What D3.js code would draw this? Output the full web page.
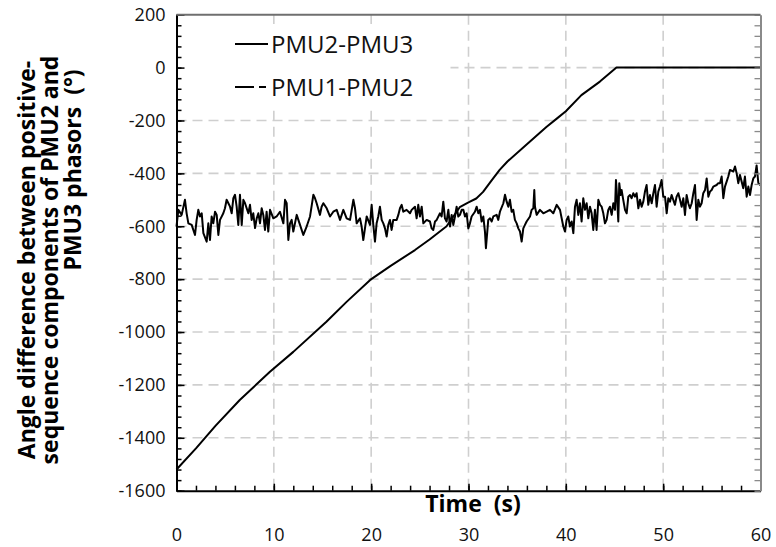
<!DOCTYPE html>
<html>
<head>
<meta charset="utf-8">
<script src="https://cdn.jsdelivr.net/npm/d3@7"></script>
<style>
  html, body { margin: 0; padding: 0; background: #fff; }
  svg { display: block; font-family: "Open Sans", "Liberation Sans", sans-serif; }
</style>
</head>
<body>
<svg id="chart" width="776" height="547"></svg>
<script>
// ── Data ─────────────────────────────────────────────────────────────────────
const xTickValues = [0, 10, 20, 30, 40, 50, 60];
const yTickValues = [200, 0, -200, -400, -600, -800, -1000, -1200, -1400, -1600];
const seriesNames = ['PMU2-PMU3', 'PMU1-PMU2'];

// PMU2-PMU3: ramps up to 0 and stays there
const pmu23T = [0, 2, 4, 6.5, 9.6, 12, 15.4, 17.5, 19.9, 22, 24.5, 26, 27.75, 29.1, 30, 30.8,
                31.5, 32.3, 33.2, 34, 36, 38, 39.1, 40, 41.6, 43.5, 45.2, 60];
const pmu23V = [-1520, -1440, -1355, -1257, -1150, -1075, -961, -885, -803, -750, -690, -650,
                -600, -528, -510, -495, -470, -430, -387, -355, -290, -225, -192, -165, -104,
                -53, 0, 0];

// PMU1-PMU2: noisy trace, [time, angle]
const pmu12 = [
  [0.00,-601],[0.19,-538],[0.53,-557],[0.87,-500],[1.04,-551],[1.22,-589],[1.56,-595],[1.90,-633],
  [2.07,-576],[2.24,-538],[2.41,-563],[2.59,-551],[2.76,-626],[3.10,-658],[3.27,-589],[3.44,-652],
  [3.61,-563],[3.78,-589],[3.96,-545],[4.13,-557],[4.30,-633],[4.47,-576],[4.81,-551],[4.98,-532],
  [5.15,-500],[5.33,-513],[5.50,-526],[5.67,-551],[5.84,-494],[6.01,-481],[6.18,-526],[6.35,-595],
  [6.52,-481],[6.70,-595],[6.87,-500],[7.04,-513],[7.38,-551],[7.55,-519],[7.72,-576],[7.89,-551],
  [8.07,-607],[8.24,-570],[8.41,-551],[8.58,-589],[8.75,-532],[8.92,-557],[9.09,-614],[9.26,-545],
  [9.43,-620],[9.61,-538],[9.95,-570],[10.29,-563],[10.63,-545],[10.98,-589],[11.15,-500],[11.32,-513],
  [11.49,-652],[11.66,-589],[11.83,-576],[12.00,-620],[12.35,-557],[12.69,-595],[13.03,-633],[13.37,-601],
  [13.72,-563],[14.06,-481],[14.23,-494],[14.40,-513],[14.74,-557],[14.91,-526],[15.09,-513],[15.43,-532],
  [15.77,-563],[16.11,-545],[16.46,-538],[16.80,-576],[17.14,-538],[17.48,-570],[17.83,-576],[18.17,-500],
  [18.34,-532],[18.51,-589],[18.85,-570],[19.02,-601],[19.19,-652],[19.54,-563],[19.88,-595],
  [20.05,-519],[20.22,-595],[20.39,-658],[20.56,-589],[20.73,-563],[20.90,-526],[21.08,-576],[21.25,-589],
  [21.42,-608],[21.59,-639],[21.76,-595],[21.93,-576],[22.10,-614],[22.27,-576],[22.62,-576],[22.79,-557],
  [22.96,-532],[23.13,-519],[23.30,-545],[23.64,-538],[23.99,-551],[24.16,-538],[24.50,-526],[24.67,-570],
  [24.84,-519],[25.01,-563],[25.19,-526],[25.36,-589],[25.70,-576],[26.04,-582],[26.21,-608],[26.38,-614],
  [26.56,-582],[26.73,-576],[27.07,-551],[27.24,-563],[27.41,-507],[27.58,-570],[27.75,-582],[27.93,-538],
  [28.10,-601],[28.27,-557],[28.44,-595],[28.61,-563],[28.78,-526],[28.95,-563],[29.12,-557],[29.30,-538],
  [29.47,-538],[29.64,-563],[29.81,-551],[29.98,-608],[30.15,-589],[30.32,-563],[30.66,-545],[30.84,-526],
  [31.01,-551],[31.18,-538],[31.35,-582],[31.52,-563],[31.69,-620],[31.79,-683],[32.03,-576],[32.21,-570],
  [32.38,-582],[32.55,-563],[32.89,-557],[33.06,-576],[33.23,-545],[33.58,-513],[33.75,-481],[33.92,-507],
  [34.09,-526],[34.26,-500],[34.43,-545],[34.60,-538],[34.77,-576],[34.95,-589],[35.12,-608],[35.29,-620],
  [35.46,-658],[35.63,-608],[35.80,-595],[35.97,-582],[36.32,-563],[36.49,-538],[36.66,-532],[36.76,-463],
  [36.83,-526],[37.00,-557],[37.34,-538],[37.69,-551],[38.03,-545],[38.37,-538],[38.71,-551],[39.06,-519],
  [39.40,-538],[39.74,-601],[39.91,-620],[40.08,-576],[40.25,-563],[40.42,-601],[40.60,-582],[40.77,-626],
  [40.94,-526],[41.11,-500],[41.28,-557],[41.45,-513],[41.62,-582],[41.79,-494],[41.97,-538],[42.14,-513],
  [42.31,-570],[42.48,-526],[42.65,-551],[42.82,-614],[42.99,-538],[43.16,-614],[43.34,-500],[43.51,-519],
  [43.68,-526],[43.85,-551],[44.02,-589],[44.19,-576],[44.36,-538],[44.53,-526],[44.71,-557],[44.88,-513],
  [45.05,-538],[45.15,-425],[45.22,-463],[45.39,-582],[45.49,-437],[45.63,-482],[45.73,-463],[45.90,-500],
  [46.08,-538],[46.25,-551],[46.42,-488],[46.59,-482],[46.76,-494],[46.93,-475],[47.10,-488],[47.27,-475],
  [47.45,-532],[47.62,-500],[47.79,-526],[47.96,-507],[48.13,-469],[48.30,-444],[48.47,-519],[48.64,-482],
  [48.82,-513],[48.99,-475],[49.16,-444],[49.33,-526],[49.50,-469],[49.67,-450],[49.84,-425],[50.01,-488],
  [50.19,-488],[50.36,-551],[50.53,-494],[50.70,-507],[50.87,-482],[51.04,-500],[51.21,-519],[51.38,-488],
  [51.56,-475],[51.73,-500],[51.90,-526],[52.07,-494],[52.24,-557],[52.41,-482],[52.58,-513],[52.75,-532],
  [52.93,-513],[53.10,-475],[53.27,-444],[53.44,-576],[53.61,-500],[53.78,-526],[53.95,-513],[54.12,-475],
  [54.30,-463],[54.47,-419],[54.64,-488],[54.81,-469],[54.98,-463],[55.15,-450],[55.49,-444],[55.66,-437],
  [55.84,-437],[56.01,-412],[56.18,-494],[56.35,-450],[56.52,-431],[56.69,-412],[56.86,-387],[57.21,-393],
  [57.38,-374],[57.55,-400],[57.72,-437],[57.89,-406],[58.06,-431],[58.23,-456],[58.40,-412],[58.58,-488],
  [58.75,-450],[58.92,-482],[59.09,-444],[59.26,-419],[59.43,-412],[59.60,-370],[59.78,-437],[60.00,-445]
];

// ── Layout ───────────────────────────────────────────────────────────────────
const PLOT = { left: 176.5, right: 760.5, top: 14.7, bottom: 490.7 };
const GRID_COLOR = '#cfcfcf';
const svg = d3.select('#chart');

const x = d3.scaleLinear().domain([0, 60]).range([PLOT.left, PLOT.right]);
const y = d3.scaleLinear().domain([-1600, 200]).range([PLOT.bottom, PLOT.top]);

// ── Grid ─────────────────────────────────────────────────────────────────────
const grid = svg.append('g').attr('class', 'grid')
  .attr('stroke', GRID_COLOR).attr('stroke-width', 1.6).attr('stroke-dasharray', '10,6');
grid.selectAll('line.vgrid')
  .data(xTickValues.filter(v => v > 0 && v < 60))
  .join('line').attr('class', 'vgrid')
  .attr('x1', d => x(d)).attr('x2', d => x(d))
  .attr('y1', PLOT.top).attr('y2', PLOT.bottom);
grid.selectAll('line.hgrid')
  .data(yTickValues.filter(v => v < 200 && v > -1600))
  .join('line').attr('class', 'hgrid')
  .attr('x1', PLOT.left).attr('x2', PLOT.right)
  .attr('y1', d => y(d)).attr('y2', d => y(d));

// ── Series ───────────────────────────────────────────────────────────────────
const line = d3.line().x(d => x(d[0])).y(d => y(d[1]));
svg.append('path')
  .datum(pmu23T.map((t, i) => [t, pmu23V[i]]))
  .attr('fill', 'none').attr('stroke', '#000').attr('stroke-width', 2)
  .attr('stroke-linejoin', 'round')
  .attr('d', line);
svg.append('path')
  .datum(pmu12)
  .attr('fill', 'none').attr('stroke', '#000').attr('stroke-width', 2)
  .attr('stroke-linejoin', 'round')
  .attr('d', line);

// ── Legend (white box hides the grid behind it) ──────────────────────────────
const legend = svg.append('g').attr('class', 'legend');
legend.append('rect')
  .attr('x', PLOT.left + 2).attr('y', 24).attr('width', 272).attr('height', 81)
  .attr('fill', '#fff');
const legendRows = [
  { name: seriesNames[0], y: 44, dash: null },
  { name: seriesNames[1], y: 87, dash: '19,5,7,40' },
];
legendRows.forEach(r => {
  legend.append('line')
    .attr('x1', 235).attr('x2', 268).attr('y1', r.y).attr('y2', r.y)
    .attr('stroke', '#000').attr('stroke-width', 2)
    .attr('stroke-dasharray', r.dash);
  legend.append('text')
    .attr('x', 271).attr('y', r.y).attr('dy', '0.36em')
    .attr('font-size', 24).attr('fill', '#111')
    .text(r.name);
});

// ── Axes ─────────────────────────────────────────────────────────────────────
const fmt = d => String(d).replace('\u2212', '-');

// bottom
svg.append('g')
  .attr('transform', `translate(0,${PLOT.bottom})`)
  .call(d3.axisBottom(x).tickValues(d3.range(0, 61, 2)).tickSize(-5).tickFormat(''))
  .call(g => g.select('.domain').remove())
  .call(g => g.selectAll('line').attr('stroke', '#000').attr('stroke-width', 1.5));
svg.append('g')
  .attr('transform', `translate(0,${PLOT.bottom})`)
  .call(d3.axisBottom(x).tickValues(xTickValues).tickSize(-7).tickSizeOuter(0)
    .tickPadding(38).tickFormat(fmt))
  .call(g => g.select('.domain').attr('stroke', '#000').attr('stroke-width', 2))
  .call(g => g.selectAll('line').attr('stroke', '#000').attr('stroke-width', 1.5))
  .call(g => g.selectAll('text').attr('font-size', 18).attr('fill', '#111')
    .attr('font-family', '"Open Sans", sans-serif'));

// left
svg.append('g')
  .attr('transform', `translate(${PLOT.left},0)`)
  .call(d3.axisLeft(y).tickValues(d3.range(-1600, 201, 40)).tickSize(-5).tickFormat(''))
  .call(g => g.select('.domain').remove())
  .call(g => g.selectAll('line').attr('stroke', '#000').attr('stroke-width', 1.5));
svg.append('g')
  .attr('transform', `translate(${PLOT.left},0)`)
  .call(d3.axisLeft(y).tickValues(yTickValues).tickSize(-8).tickSizeOuter(0)
    .tickPadding(11).tickFormat(fmt))
  .call(g => g.select('.domain').attr('stroke', '#000').attr('stroke-width', 2))
  .call(g => g.selectAll('line').attr('stroke', '#000').attr('stroke-width', 1.5))
  .call(g => g.selectAll('text').attr('font-size', 18).attr('fill', '#111')
    .attr('font-family', '"Open Sans", sans-serif'));

// right (grey, ticks only)
svg.append('g')
  .attr('transform', `translate(${PLOT.right},0)`)
  .call(d3.axisRight(y).tickValues(d3.range(-1600, 201, 40)).tickSize(-6).tickSizeOuter(0)
    .tickFormat(''))
  .call(g => g.select('.domain').attr('stroke', '#8a8a8a').attr('stroke-width', 2))
  .call(g => g.selectAll('.tick line').attr('stroke', '#8a8a8a').attr('stroke-width', 1.3));

// top border
svg.append('line')
  .attr('x1', PLOT.left).attr('x2', PLOT.right)
  .attr('y1', PLOT.top).attr('y2', PLOT.top)
  .attr('stroke', '#6f6f6f').attr('stroke-width', 2);

// ── Axis titles ──────────────────────────────────────────────────────────────
svg.append('text')
  .attr('x', 473).attr('y', 512)
  .attr('text-anchor', 'middle').attr('font-weight', 'bold').attr('font-size', 23)
  .attr('fill', '#000').style('white-space', 'pre')
  .text('Time  (s)');

const yTitleLines = [
  { text: 'Angle difference between positive-', x: 35, cy: 260 },
  { text: 'sequence components of PMU2 and', x: 58, cy: 260 },
  { text: 'PMU3 phasors  (\u00b0)', x: 81, cy: 170 },
];
yTitleLines.forEach(l => {
  svg.append('text')
    .attr('transform', `translate(${l.x},${l.cy}) rotate(-90)`)
    .attr('text-anchor', 'middle').attr('font-weight', 'bold').attr('font-size', 23)
    .attr('fill', '#000').style('white-space', 'pre')
    .text(l.text);
});
</script>
</body>
</html>
